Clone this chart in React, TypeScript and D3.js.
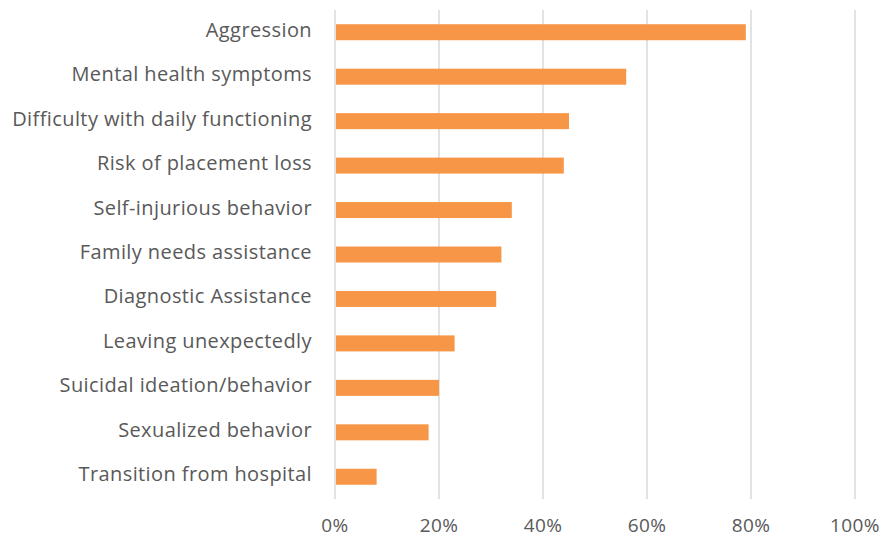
import React from "react";
import * as d3 from "d3";

const categories = [
  "Aggression",
  "Mental health symptoms",
  "Difficulty with daily functioning",
  "Risk of placement loss",
  "Self-injurious behavior",
  "Family needs assistance",
  "Diagnostic Assistance",
  "Leaving unexpectedly",
  "Suicidal ideation/behavior",
  "Sexualized behavior",
  "Transition from hospital",
];
const values = [79, 56, 45, 44, 34, 32, 31, 23, 20, 18, 8];
const tickValues = [0, 20, 40, 60, 80, 100];

const W = 880;
const H = 533;
const margin = { top: 10, right: 25, bottom: 34, left: 335 };

export default function App() {
  const x = d3.scaleLinear().domain([0, 100]).range([margin.left, W - margin.right]);
  const y = d3
    .scaleBand<string>()
    .domain(categories)
    .range([margin.top, H - margin.bottom])
    .paddingInner(0.64)
    .paddingOuter(0.32);
  const font = "'Open Sans', sans-serif";
  const textColor = "#595959";

  return (
    <svg width={W} height={H} style={{ position: "absolute", left: 0, top: 0 }}>
      <rect width={W} height={H} fill="#fff" />
      {tickValues.map((t) => (
        <g key={t}>
          <line
            x1={x(t)}
            x2={x(t)}
            y1={margin.top}
            y2={H - margin.bottom}
            stroke="#d9d9d9"
            strokeWidth={1.5}
          />
          <text
            x={x(t)}
            y={H - 1}
            textAnchor="middle"
            fontFamily={font}
            fontSize={19}
            letterSpacing={0.4}
            fill={textColor}
          >
            {t}%
          </text>
        </g>
      ))}
      {categories.map((c, i) => (
        <g key={c}>
          <rect
            x={x(0) + 1}
            y={y(c)}
            width={x(values[i]) - x(0) - 1}
            height={y.bandwidth()}
            fill="#f79646"
          />
          <text
            x={margin.left - 23}
            y={(y(c) as number) + y.bandwidth() / 2 + 4.5}
            textAnchor="end"
            fontFamily={font}
            fontSize={20}
            letterSpacing={0.4}
            fill={textColor}
          >
            {c}
          </text>
        </g>
      ))}
    </svg>
  );
}
